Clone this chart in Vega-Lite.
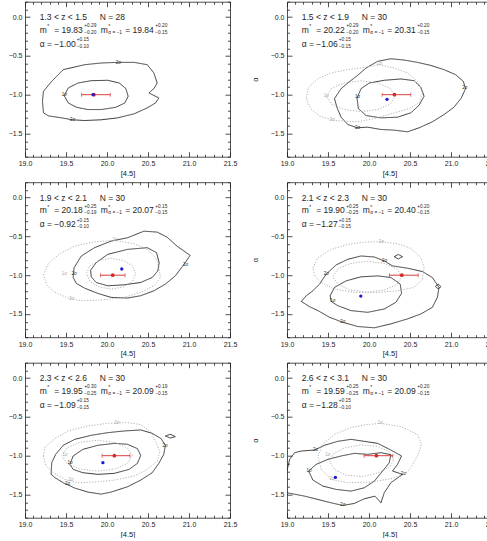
{
  "$schema": "https://vega.github.io/schema/vega-lite/v6.json",
  "background": "white",
  "padding": {"left": -11, "top": -3.3, "right": 0, "bottom": 0},
  "config": {
    "font": "Liberation Sans",
    "view": {"stroke": null},
    "header": {"labels": false, "title": null, "labelFontSize": 0.1, "labelPadding": 0, "titlePadding": 0, "labelExpr": "''"},
    "axis": {
      "labelFont": "Liberation Sans", "titleFont": "Liberation Sans",
      "labelFontSize": 7, "titleFontSize": 7.5, "titleFontWeight": "normal",
      "labelColor": "#222", "titleColor": "#222", "domainColor": "#222", "tickColor": "#222",
      "domainWidth": 0.8, "tickWidth": 0.8, "grid": false,
      "labelOverlap": false, "labelFlush": false, "labelBound": false
    }
  },
  "data": {"values": [
    {"p":1,"k":"c","c":"a","s":"solid","o":0,"x":19.466,"y":-0.677},
    {"p":1,"k":"c","c":"a","s":"solid","o":1,"x":19.727,"y":-0.613},
    {"p":1,"k":"c","c":"a","s":"solid","o":2,"x":19.928,"y":-0.591},
    {"p":1,"k":"c","c":"a","s":"solid","o":3,"x":20.129,"y":-0.583},
    {"p":1,"k":"c","c":"a","s":"solid","o":4,"x":20.33,"y":-0.583},
    {"p":1,"k":"c","c":"a","s":"solid","o":5,"x":20.491,"y":-0.613},
    {"p":1,"k":"c","c":"a","s":"solid","o":6,"x":20.572,"y":-0.72},
    {"p":1,"k":"c","c":"a","s":"solid","o":7,"x":20.612,"y":-0.849},
    {"p":1,"k":"c","c":"a","s":"solid","o":8,"x":20.572,"y":-0.921},
    {"p":1,"k":"c","c":"a","s":"solid","o":9,"x":20.511,"y":-0.977},
    {"p":1,"k":"c","c":"a","s":"solid","o":10,"x":20.632,"y":-1.042},
    {"p":1,"k":"c","c":"a","s":"solid","o":11,"x":20.592,"y":-1.106},
    {"p":1,"k":"c","c":"a","s":"solid","o":12,"x":20.491,"y":-1.17},
    {"p":1,"k":"c","c":"a","s":"solid","o":13,"x":20.33,"y":-1.247},
    {"p":1,"k":"c","c":"a","s":"solid","o":14,"x":20.129,"y":-1.299},
    {"p":1,"k":"c","c":"a","s":"solid","o":15,"x":19.928,"y":-1.324},
    {"p":1,"k":"c","c":"a","s":"solid","o":16,"x":19.727,"y":-1.333},
    {"p":1,"k":"c","c":"a","s":"solid","o":17,"x":19.579,"y":-1.324},
    {"p":1,"k":"c","c":"a","s":"solid","o":18,"x":19.446,"y":-1.299},
    {"p":1,"k":"c","c":"a","s":"solid","o":19,"x":19.285,"y":-1.273},
    {"p":1,"k":"c","c":"a","s":"solid","o":20,"x":19.225,"y":-1.234},
    {"p":1,"k":"c","c":"a","s":"solid","o":21,"x":19.213,"y":-1.084},
    {"p":1,"k":"c","c":"a","s":"solid","o":22,"x":19.225,"y":-0.956},
    {"p":1,"k":"c","c":"a","s":"solid","o":23,"x":19.326,"y":-0.827},
    {"p":1,"k":"c","c":"a","s":"solid","o":24,"x":19.466,"y":-0.677},

    {"p":1,"k":"c","c":"b","s":"solid","o":0,"x":19.478,"y":-1.012},
    {"p":1,"k":"c","c":"b","s":"solid","o":1,"x":19.527,"y":-0.913},
    {"p":1,"k":"c","c":"b","s":"solid","o":2,"x":19.647,"y":-0.849},
    {"p":1,"k":"c","c":"b","s":"solid","o":3,"x":19.808,"y":-0.819},
    {"p":1,"k":"c","c":"b","s":"solid","o":4,"x":20.009,"y":-0.814},
    {"p":1,"k":"c","c":"b","s":"solid","o":5,"x":20.149,"y":-0.849},
    {"p":1,"k":"c","c":"b","s":"solid","o":6,"x":20.23,"y":-0.921},
    {"p":1,"k":"c","c":"b","s":"solid","o":7,"x":20.258,"y":-1.02},
    {"p":1,"k":"c","c":"b","s":"solid","o":8,"x":20.218,"y":-1.106},
    {"p":1,"k":"c","c":"b","s":"solid","o":9,"x":20.109,"y":-1.162},
    {"p":1,"k":"c","c":"b","s":"solid","o":10,"x":19.928,"y":-1.192},
    {"p":1,"k":"c","c":"b","s":"solid","o":11,"x":19.768,"y":-1.192},
    {"p":1,"k":"c","c":"b","s":"solid","o":12,"x":19.627,"y":-1.162},
    {"p":1,"k":"c","c":"b","s":"solid","o":13,"x":19.527,"y":-1.106},
    {"p":1,"k":"c","c":"b","s":"solid","o":14,"x":19.478,"y":-1.012},

    {"p":2,"k":"c","c":"a","s":"solid","o":0,"x":19.579,"y":-1.05},
    {"p":2,"k":"c","c":"a","s":"solid","o":1,"x":19.66,"y":-0.922},
    {"p":2,"k":"c","c":"a","s":"solid","o":2,"x":19.741,"y":-0.849},
    {"p":2,"k":"c","c":"a","s":"solid","o":3,"x":19.862,"y":-0.75},
    {"p":2,"k":"c","c":"a","s":"solid","o":4,"x":19.964,"y":-0.656},
    {"p":2,"k":"c","c":"a","s":"solid","o":5,"x":20.105,"y":-0.57},
    {"p":2,"k":"c","c":"a","s":"solid","o":6,"x":20.267,"y":-0.536},
    {"p":2,"k":"c","c":"a","s":"solid","o":7,"x":20.429,"y":-0.553},
    {"p":2,"k":"c","c":"a","s":"solid","o":8,"x":20.591,"y":-0.583},
    {"p":2,"k":"c","c":"a","s":"solid","o":9,"x":20.753,"y":-0.622},
    {"p":2,"k":"c","c":"a","s":"solid","o":10,"x":20.915,"y":-0.677},
    {"p":2,"k":"c","c":"a","s":"solid","o":11,"x":21.057,"y":-0.742},
    {"p":2,"k":"c","c":"a","s":"solid","o":12,"x":21.15,"y":-0.827},
    {"p":2,"k":"c","c":"a","s":"solid","o":13,"x":21.178,"y":-0.922},
    {"p":2,"k":"c","c":"a","s":"solid","o":14,"x":21.126,"y":-1.042},
    {"p":2,"k":"c","c":"a","s":"solid","o":15,"x":21.036,"y":-1.162},
    {"p":2,"k":"c","c":"a","s":"solid","o":16,"x":20.915,"y":-1.256},
    {"p":2,"k":"c","c":"a","s":"solid","o":17,"x":20.773,"y":-1.35},
    {"p":2,"k":"c","c":"a","s":"solid","o":18,"x":20.611,"y":-1.427},
    {"p":2,"k":"c","c":"a","s":"solid","o":19,"x":20.47,"y":-1.479},
    {"p":2,"k":"c","c":"a","s":"solid","o":20,"x":20.308,"y":-1.457},
    {"p":2,"k":"c","c":"a","s":"solid","o":21,"x":20.146,"y":-1.449},
    {"p":2,"k":"c","c":"a","s":"solid","o":22,"x":19.984,"y":-1.419},
    {"p":2,"k":"c","c":"a","s":"solid","o":23,"x":19.854,"y":-1.427},
    {"p":2,"k":"c","c":"a","s":"solid","o":24,"x":19.741,"y":-1.384},
    {"p":2,"k":"c","c":"a","s":"solid","o":25,"x":19.66,"y":-1.29},
    {"p":2,"k":"c","c":"a","s":"solid","o":26,"x":19.611,"y":-1.17},
    {"p":2,"k":"c","c":"a","s":"solid","o":27,"x":19.579,"y":-1.05},

    {"p":2,"k":"c","c":"b","s":"solid","o":0,"x":19.854,"y":-1.042},
    {"p":2,"k":"c","c":"b","s":"solid","o":1,"x":19.903,"y":-0.922},
    {"p":2,"k":"c","c":"b","s":"solid","o":2,"x":20.004,"y":-0.849},
    {"p":2,"k":"c","c":"b","s":"solid","o":3,"x":20.186,"y":-0.814},
    {"p":2,"k":"c","c":"b","s":"solid","o":4,"x":20.389,"y":-0.797},
    {"p":2,"k":"c","c":"b","s":"solid","o":5,"x":20.551,"y":-0.819},
    {"p":2,"k":"c","c":"b","s":"solid","o":6,"x":20.632,"y":-0.904},
    {"p":2,"k":"c","c":"b","s":"solid","o":7,"x":20.672,"y":-1.02},
    {"p":2,"k":"c","c":"b","s":"solid","o":8,"x":20.611,"y":-1.136},
    {"p":2,"k":"c","c":"b","s":"solid","o":9,"x":20.51,"y":-1.234},
    {"p":2,"k":"c","c":"b","s":"solid","o":10,"x":20.348,"y":-1.29},
    {"p":2,"k":"c","c":"b","s":"solid","o":11,"x":20.146,"y":-1.299},
    {"p":2,"k":"c","c":"b","s":"solid","o":12,"x":19.964,"y":-1.269},
    {"p":2,"k":"c","c":"b","s":"solid","o":13,"x":19.87,"y":-1.179},
    {"p":2,"k":"c","c":"b","s":"solid","o":14,"x":19.854,"y":-1.042},

    {"p":2,"k":"c","c":"c","s":"dotted","o":0,"x":19.235,"y":-1.042},
    {"p":2,"k":"c","c":"c","s":"dotted","o":1,"x":19.263,"y":-0.904},
    {"p":2,"k":"c","c":"c","s":"dotted","o":2,"x":19.377,"y":-0.793},
    {"p":2,"k":"c","c":"c","s":"dotted","o":3,"x":19.538,"y":-0.72},
    {"p":2,"k":"c","c":"c","s":"dotted","o":4,"x":19.741,"y":-0.677},
    {"p":2,"k":"c","c":"c","s":"dotted","o":5,"x":19.943,"y":-0.647},
    {"p":2,"k":"c","c":"c","s":"dotted","o":6,"x":20.126,"y":-0.613},
    {"p":2,"k":"c","c":"c","s":"dotted","o":7,"x":20.308,"y":-0.656},
    {"p":2,"k":"c","c":"c","s":"dotted","o":8,"x":20.47,"y":-0.72},
    {"p":2,"k":"c","c":"c","s":"dotted","o":9,"x":20.591,"y":-0.827},
    {"p":2,"k":"c","c":"c","s":"dotted","o":10,"x":20.652,"y":-0.977},
    {"p":2,"k":"c","c":"c","s":"dotted","o":11,"x":20.611,"y":-1.106},
    {"p":2,"k":"c","c":"c","s":"dotted","o":12,"x":20.49,"y":-1.179},
    {"p":2,"k":"c","c":"c","s":"dotted","o":13,"x":20.308,"y":-1.234},
    {"p":2,"k":"c","c":"c","s":"dotted","o":14,"x":20.105,"y":-1.299},
    {"p":2,"k":"c","c":"c","s":"dotted","o":15,"x":19.862,"y":-1.35},
    {"p":2,"k":"c","c":"c","s":"dotted","o":16,"x":19.579,"y":-1.333},
    {"p":2,"k":"c","c":"c","s":"dotted","o":17,"x":19.397,"y":-1.277},
    {"p":2,"k":"c","c":"c","s":"dotted","o":18,"x":19.287,"y":-1.179},
    {"p":2,"k":"c","c":"c","s":"dotted","o":19,"x":19.235,"y":-1.042},

    {"p":2,"k":"c","c":"d","s":"dotted","o":0,"x":20.32,"y":-1.02},
    {"p":2,"k":"c","c":"d","s":"dotted","o":1,"x":20.26,"y":-0.92},
    {"p":2,"k":"c","c":"d","s":"dotted","o":2,"x":20.11,"y":-0.85},
    {"p":2,"k":"c","c":"d","s":"dotted","o":3,"x":19.9,"y":-0.82},
    {"p":2,"k":"c","c":"d","s":"dotted","o":4,"x":19.69,"y":-0.85},
    {"p":2,"k":"c","c":"d","s":"dotted","o":5,"x":19.54,"y":-0.92},
    {"p":2,"k":"c","c":"d","s":"dotted","o":6,"x":19.48,"y":-1.02},
    {"p":2,"k":"c","c":"d","s":"dotted","o":7,"x":19.54,"y":-1.12},
    {"p":2,"k":"c","c":"d","s":"dotted","o":8,"x":19.69,"y":-1.19},
    {"p":2,"k":"c","c":"d","s":"dotted","o":9,"x":19.9,"y":-1.22},
    {"p":2,"k":"c","c":"d","s":"dotted","o":10,"x":20.11,"y":-1.19},
    {"p":2,"k":"c","c":"d","s":"dotted","o":11,"x":20.26,"y":-1.12},
    {"p":2,"k":"c","c":"d","s":"dotted","o":12,"x":20.32,"y":-1.02},

    {"p":3,"k":"c","c":"a","s":"solid","o":0,"x":19.587,"y":-1.03},
    {"p":3,"k":"c","c":"a","s":"solid","o":1,"x":19.599,"y":-0.902},
    {"p":3,"k":"c","c":"a","s":"solid","o":2,"x":19.687,"y":-0.752},
    {"p":3,"k":"c","c":"a","s":"solid","o":3,"x":19.848,"y":-0.645},
    {"p":3,"k":"c","c":"a","s":"solid","o":4,"x":20.049,"y":-0.56},
    {"p":3,"k":"c","c":"a","s":"solid","o":5,"x":20.25,"y":-0.517},
    {"p":3,"k":"c","c":"a","s":"solid","o":6,"x":20.451,"y":-0.432},
    {"p":3,"k":"c","c":"a","s":"solid","o":7,"x":20.612,"y":-0.444},
    {"p":3,"k":"c","c":"a","s":"solid","o":8,"x":20.732,"y":-0.509},
    {"p":3,"k":"c","c":"a","s":"solid","o":9,"x":20.853,"y":-0.624},
    {"p":3,"k":"c","c":"a","s":"solid","o":10,"x":21.014,"y":-0.744},
    {"p":3,"k":"c","c":"a","s":"solid","o":11,"x":20.933,"y":-0.868},
    {"p":3,"k":"c","c":"a","s":"solid","o":12,"x":20.833,"y":-1.009},
    {"p":3,"k":"c","c":"a","s":"solid","o":13,"x":20.712,"y":-1.115},
    {"p":3,"k":"c","c":"a","s":"solid","o":14,"x":20.572,"y":-1.201},
    {"p":3,"k":"c","c":"a","s":"solid","o":15,"x":20.411,"y":-1.265},
    {"p":3,"k":"c","c":"a","s":"solid","o":16,"x":20.25,"y":-1.295},
    {"p":3,"k":"c","c":"a","s":"solid","o":17,"x":20.049,"y":-1.286},
    {"p":3,"k":"c","c":"a","s":"solid","o":18,"x":19.888,"y":-1.235},
    {"p":3,"k":"c","c":"a","s":"solid","o":19,"x":19.727,"y":-1.167},
    {"p":3,"k":"c","c":"a","s":"solid","o":20,"x":19.627,"y":-1.107},
    {"p":3,"k":"c","c":"a","s":"solid","o":21,"x":19.587,"y":-1.03},

    {"p":3,"k":"c","c":"b","s":"solid","o":0,"x":19.8,"y":-0.936},
    {"p":3,"k":"c","c":"b","s":"solid","o":1,"x":19.868,"y":-0.838},
    {"p":3,"k":"c","c":"b","s":"solid","o":2,"x":20.009,"y":-0.731},
    {"p":3,"k":"c","c":"b","s":"solid","o":3,"x":20.25,"y":-0.667},
    {"p":3,"k":"c","c":"b","s":"solid","o":4,"x":20.491,"y":-0.645},
    {"p":3,"k":"c","c":"b","s":"solid","o":5,"x":20.604,"y":-0.709},
    {"p":3,"k":"c","c":"b","s":"solid","o":6,"x":20.636,"y":-0.838},
    {"p":3,"k":"c","c":"b","s":"solid","o":7,"x":20.62,"y":-0.944},
    {"p":3,"k":"c","c":"b","s":"solid","o":8,"x":20.551,"y":-1.03},
    {"p":3,"k":"c","c":"b","s":"solid","o":9,"x":20.411,"y":-1.094},
    {"p":3,"k":"c","c":"b","s":"solid","o":10,"x":20.21,"y":-1.124},
    {"p":3,"k":"c","c":"b","s":"solid","o":11,"x":20.009,"y":-1.137},
    {"p":3,"k":"c","c":"b","s":"solid","o":12,"x":19.868,"y":-1.094},
    {"p":3,"k":"c","c":"b","s":"solid","o":13,"x":19.808,"y":-1.021},
    {"p":3,"k":"c","c":"b","s":"solid","o":14,"x":19.8,"y":-0.936},

    {"p":3,"k":"c","c":"c","s":"dotted","o":0,"x":19.225,"y":-0.996},
    {"p":3,"k":"c","c":"c","s":"dotted","o":1,"x":19.285,"y":-0.85},
    {"p":3,"k":"c","c":"c","s":"dotted","o":2,"x":19.426,"y":-0.722},
    {"p":3,"k":"c","c":"c","s":"dotted","o":3,"x":19.607,"y":-0.624},
    {"p":3,"k":"c","c":"c","s":"dotted","o":4,"x":19.848,"y":-0.568},
    {"p":3,"k":"c","c":"c","s":"dotted","o":5,"x":20.089,"y":-0.551},
    {"p":3,"k":"c","c":"c","s":"dotted","o":6,"x":20.33,"y":-0.594},
    {"p":3,"k":"c","c":"c","s":"dotted","o":7,"x":20.491,"y":-0.667},
    {"p":3,"k":"c","c":"c","s":"dotted","o":8,"x":20.592,"y":-0.774},
    {"p":3,"k":"c","c":"c","s":"dotted","o":9,"x":20.632,"y":-0.893},
    {"p":3,"k":"c","c":"c","s":"dotted","o":10,"x":20.652,"y":-1.03},
    {"p":3,"k":"c","c":"c","s":"dotted","o":11,"x":20.572,"y":-1.137},
    {"p":3,"k":"c","c":"c","s":"dotted","o":12,"x":20.411,"y":-1.222},
    {"p":3,"k":"c","c":"c","s":"dotted","o":13,"x":20.21,"y":-1.286},
    {"p":3,"k":"c","c":"c","s":"dotted","o":14,"x":19.928,"y":-1.321},
    {"p":3,"k":"c","c":"c","s":"dotted","o":15,"x":19.687,"y":-1.329},
    {"p":3,"k":"c","c":"c","s":"dotted","o":16,"x":19.526,"y":-1.295},
    {"p":3,"k":"c","c":"c","s":"dotted","o":17,"x":19.366,"y":-1.222},
    {"p":3,"k":"c","c":"c","s":"dotted","o":18,"x":19.265,"y":-1.124},
    {"p":3,"k":"c","c":"c","s":"dotted","o":19,"x":19.225,"y":-0.996},

    {"p":3,"k":"c","c":"d","s":"dotted","o":0,"x":20.35,"y":-0.98},
    {"p":3,"k":"c","c":"d","s":"dotted","o":1,"x":20.31,"y":-0.88},
    {"p":3,"k":"c","c":"d","s":"dotted","o":2,"x":20.2,"y":-0.81},
    {"p":3,"k":"c","c":"d","s":"dotted","o":3,"x":20.05,"y":-0.78},
    {"p":3,"k":"c","c":"d","s":"dotted","o":4,"x":19.9,"y":-0.81},
    {"p":3,"k":"c","c":"d","s":"dotted","o":5,"x":19.79,"y":-0.88},
    {"p":3,"k":"c","c":"d","s":"dotted","o":6,"x":19.75,"y":-0.98},
    {"p":3,"k":"c","c":"d","s":"dotted","o":7,"x":19.79,"y":-1.08},
    {"p":3,"k":"c","c":"d","s":"dotted","o":8,"x":19.9,"y":-1.15},
    {"p":3,"k":"c","c":"d","s":"dotted","o":9,"x":20.05,"y":-1.18},
    {"p":3,"k":"c","c":"d","s":"dotted","o":10,"x":20.2,"y":-1.15},
    {"p":3,"k":"c","c":"d","s":"dotted","o":11,"x":20.31,"y":-1.08},
    {"p":3,"k":"c","c":"d","s":"dotted","o":12,"x":20.35,"y":-0.98},

    {"p":4,"k":"c","c":"a","s":"solid","o":0,"x":19.174,"y":-1.338},
    {"p":4,"k":"c","c":"a","s":"solid","o":1,"x":19.235,"y":-1.265},
    {"p":4,"k":"c","c":"a","s":"solid","o":2,"x":19.316,"y":-1.201},
    {"p":4,"k":"c","c":"a","s":"solid","o":3,"x":19.397,"y":-1.115},
    {"p":4,"k":"c","c":"a","s":"solid","o":4,"x":19.478,"y":-0.987},
    {"p":4,"k":"c","c":"a","s":"solid","o":5,"x":19.599,"y":-0.868},
    {"p":4,"k":"c","c":"a","s":"solid","o":6,"x":19.741,"y":-0.795},
    {"p":4,"k":"c","c":"a","s":"solid","o":7,"x":19.903,"y":-0.752},
    {"p":4,"k":"c","c":"a","s":"solid","o":8,"x":20.065,"y":-0.765},
    {"p":4,"k":"c","c":"a","s":"solid","o":9,"x":20.186,"y":-0.816},
    {"p":4,"k":"c","c":"a","s":"solid","o":10,"x":20.287,"y":-0.88},
    {"p":4,"k":"c","c":"a","s":"solid","o":11,"x":20.47,"y":-0.91},
    {"p":4,"k":"c","c":"a","s":"solid","o":12,"x":20.652,"y":-0.953},
    {"p":4,"k":"c","c":"a","s":"solid","o":13,"x":20.773,"y":-1.03},
    {"p":4,"k":"c","c":"a","s":"solid","o":14,"x":20.854,"y":-1.158},
    {"p":4,"k":"c","c":"a","s":"solid","o":15,"x":20.834,"y":-1.286},
    {"p":4,"k":"c","c":"a","s":"solid","o":16,"x":20.773,"y":-1.415},
    {"p":4,"k":"c","c":"a","s":"solid","o":17,"x":20.632,"y":-1.5},
    {"p":4,"k":"c","c":"a","s":"solid","o":18,"x":20.47,"y":-1.564},
    {"p":4,"k":"c","c":"a","s":"solid","o":19,"x":20.267,"y":-1.628},
    {"p":4,"k":"c","c":"a","s":"solid","o":20,"x":20.065,"y":-1.679},
    {"p":4,"k":"c","c":"a","s":"solid","o":21,"x":19.862,"y":-1.662},
    {"p":4,"k":"c","c":"a","s":"solid","o":22,"x":19.68,"y":-1.607},
    {"p":4,"k":"c","c":"a","s":"solid","o":23,"x":19.518,"y":-1.543},
    {"p":4,"k":"c","c":"a","s":"solid","o":24,"x":19.377,"y":-1.457},
    {"p":4,"k":"c","c":"a","s":"solid","o":25,"x":19.275,"y":-1.406},
    {"p":4,"k":"c","c":"a","s":"solid","o":26,"x":19.174,"y":-1.338},

    {"p":4,"k":"c","c":"b","s":"solid","o":0,"x":19.526,"y":-1.265},
    {"p":4,"k":"c","c":"b","s":"solid","o":1,"x":19.579,"y":-1.158},
    {"p":4,"k":"c","c":"b","s":"solid","o":2,"x":19.721,"y":-1.073},
    {"p":4,"k":"c","c":"b","s":"solid","o":3,"x":19.903,"y":-1.021},
    {"p":4,"k":"c","c":"b","s":"solid","o":4,"x":20.105,"y":-1.009},
    {"p":4,"k":"c","c":"b","s":"solid","o":5,"x":20.267,"y":-1.03},
    {"p":4,"k":"c","c":"b","s":"solid","o":6,"x":20.381,"y":-1.115},
    {"p":4,"k":"c","c":"b","s":"solid","o":7,"x":20.397,"y":-1.235},
    {"p":4,"k":"c","c":"b","s":"solid","o":8,"x":20.328,"y":-1.35},
    {"p":4,"k":"c","c":"b","s":"solid","o":9,"x":20.186,"y":-1.436},
    {"p":4,"k":"c","c":"b","s":"solid","o":10,"x":19.984,"y":-1.479},
    {"p":4,"k":"c","c":"b","s":"solid","o":11,"x":19.781,"y":-1.457},
    {"p":4,"k":"c","c":"b","s":"solid","o":12,"x":19.619,"y":-1.393},
    {"p":4,"k":"c","c":"b","s":"solid","o":13,"x":19.538,"y":-1.338},
    {"p":4,"k":"c","c":"b","s":"solid","o":14,"x":19.526,"y":-1.265},

    {"p":4,"k":"c","c":"e","s":"solid","o":0,"x":20.308,"y":-0.761},
    {"p":4,"k":"c","c":"e","s":"solid","o":1,"x":20.356,"y":-0.732},
    {"p":4,"k":"c","c":"e","s":"solid","o":2,"x":20.409,"y":-0.761},
    {"p":4,"k":"c","c":"e","s":"solid","o":3,"x":20.356,"y":-0.791},
    {"p":4,"k":"c","c":"e","s":"solid","o":4,"x":20.308,"y":-0.761},

    {"p":4,"k":"c","c":"f","s":"solid","o":0,"x":20.81,"y":-1.145},
    {"p":4,"k":"c","c":"f","s":"solid","o":1,"x":20.846,"y":-1.115},
    {"p":4,"k":"c","c":"f","s":"solid","o":2,"x":20.878,"y":-1.15},
    {"p":4,"k":"c","c":"f","s":"solid","o":3,"x":20.842,"y":-1.175},
    {"p":4,"k":"c","c":"f","s":"solid","o":4,"x":20.81,"y":-1.145},

    {"p":4,"k":"c","c":"c","s":"dotted","o":0,"x":19.316,"y":-0.902},
    {"p":4,"k":"c","c":"c","s":"dotted","o":1,"x":19.377,"y":-0.774},
    {"p":4,"k":"c","c":"c","s":"dotted","o":2,"x":19.538,"y":-0.667},
    {"p":4,"k":"c","c":"c","s":"dotted","o":3,"x":19.741,"y":-0.603},
    {"p":4,"k":"c","c":"c","s":"dotted","o":4,"x":19.943,"y":-0.573},
    {"p":4,"k":"c","c":"c","s":"dotted","o":5,"x":20.154,"y":-0.568},
    {"p":4,"k":"c","c":"c","s":"dotted","o":6,"x":20.348,"y":-0.594},
    {"p":4,"k":"c","c":"c","s":"dotted","o":7,"x":20.51,"y":-0.654},
    {"p":4,"k":"c","c":"c","s":"dotted","o":8,"x":20.632,"y":-0.774},
    {"p":4,"k":"c","c":"c","s":"dotted","o":9,"x":20.672,"y":-0.902},
    {"p":4,"k":"c","c":"c","s":"dotted","o":10,"x":20.652,"y":-1.051},
    {"p":4,"k":"c","c":"c","s":"dotted","o":11,"x":20.551,"y":-1.158},
    {"p":4,"k":"c","c":"c","s":"dotted","o":12,"x":20.348,"y":-1.201},
    {"p":4,"k":"c","c":"c","s":"dotted","o":13,"x":20.105,"y":-1.222},
    {"p":4,"k":"c","c":"c","s":"dotted","o":14,"x":19.822,"y":-1.222},
    {"p":4,"k":"c","c":"c","s":"dotted","o":15,"x":19.579,"y":-1.179},
    {"p":4,"k":"c","c":"c","s":"dotted","o":16,"x":19.417,"y":-1.094},
    {"p":4,"k":"c","c":"c","s":"dotted","o":17,"x":19.336,"y":-1.009},
    {"p":4,"k":"c","c":"c","s":"dotted","o":18,"x":19.316,"y":-0.902},

    {"p":4,"k":"c","c":"d","s":"dotted","o":0,"x":20.4,"y":-1.02},
    {"p":4,"k":"c","c":"d","s":"dotted","o":1,"x":20.34,"y":-0.92},
    {"p":4,"k":"c","c":"d","s":"dotted","o":2,"x":20.19,"y":-0.85},
    {"p":4,"k":"c","c":"d","s":"dotted","o":3,"x":19.98,"y":-0.82},
    {"p":4,"k":"c","c":"d","s":"dotted","o":4,"x":19.77,"y":-0.85},
    {"p":4,"k":"c","c":"d","s":"dotted","o":5,"x":19.62,"y":-0.92},
    {"p":4,"k":"c","c":"d","s":"dotted","o":6,"x":19.56,"y":-1.02},
    {"p":4,"k":"c","c":"d","s":"dotted","o":7,"x":19.62,"y":-1.12},
    {"p":4,"k":"c","c":"d","s":"dotted","o":8,"x":19.77,"y":-1.19},
    {"p":4,"k":"c","c":"d","s":"dotted","o":9,"x":19.98,"y":-1.22},
    {"p":4,"k":"c","c":"d","s":"dotted","o":10,"x":20.19,"y":-1.19},
    {"p":4,"k":"c","c":"d","s":"dotted","o":11,"x":20.34,"y":-1.12},
    {"p":4,"k":"c","c":"d","s":"dotted","o":12,"x":20.4,"y":-1.02},

    {"p":5,"k":"c","c":"a","s":"solid","o":0,"x":19.318,"y":-1.241},
    {"p":5,"k":"c","c":"a","s":"solid","o":1,"x":19.326,"y":-1.091},
    {"p":5,"k":"c","c":"a","s":"solid","o":2,"x":19.374,"y":-0.983},
    {"p":5,"k":"c","c":"a","s":"solid","o":3,"x":19.466,"y":-0.866},
    {"p":5,"k":"c","c":"a","s":"solid","o":4,"x":19.607,"y":-0.789},
    {"p":5,"k":"c","c":"a","s":"solid","o":5,"x":19.808,"y":-0.737},
    {"p":5,"k":"c","c":"a","s":"solid","o":6,"x":20.009,"y":-0.703},
    {"p":5,"k":"c","c":"a","s":"solid","o":7,"x":20.21,"y":-0.681},
    {"p":5,"k":"c","c":"a","s":"solid","o":8,"x":20.411,"y":-0.668},
    {"p":5,"k":"c","c":"a","s":"solid","o":9,"x":20.551,"y":-0.711},
    {"p":5,"k":"c","c":"a","s":"solid","o":10,"x":20.66,"y":-0.78},
    {"p":5,"k":"c","c":"a","s":"solid","o":11,"x":20.712,"y":-0.866},
    {"p":5,"k":"c","c":"a","s":"solid","o":12,"x":20.692,"y":-0.983},
    {"p":5,"k":"c","c":"a","s":"solid","o":13,"x":20.632,"y":-1.099},
    {"p":5,"k":"c","c":"a","s":"solid","o":14,"x":20.551,"y":-1.22},
    {"p":5,"k":"c","c":"a","s":"solid","o":15,"x":20.411,"y":-1.315},
    {"p":5,"k":"c","c":"a","s":"solid","o":16,"x":20.25,"y":-1.401},
    {"p":5,"k":"c","c":"a","s":"solid","o":17,"x":20.049,"y":-1.47},
    {"p":5,"k":"c","c":"a","s":"solid","o":18,"x":19.928,"y":-1.496},
    {"p":5,"k":"c","c":"a","s":"solid","o":19,"x":19.768,"y":-1.47},
    {"p":5,"k":"c","c":"a","s":"solid","o":20,"x":19.607,"y":-1.418},
    {"p":5,"k":"c","c":"a","s":"solid","o":21,"x":19.466,"y":-1.349},
    {"p":5,"k":"c","c":"a","s":"solid","o":22,"x":19.366,"y":-1.284},
    {"p":5,"k":"c","c":"a","s":"solid","o":23,"x":19.318,"y":-1.241},

    {"p":5,"k":"c","c":"b","s":"solid","o":0,"x":19.547,"y":-1.112},
    {"p":5,"k":"c","c":"b","s":"solid","o":1,"x":19.587,"y":-1.004},
    {"p":5,"k":"c","c":"b","s":"solid","o":2,"x":19.707,"y":-0.918},
    {"p":5,"k":"c","c":"b","s":"solid","o":3,"x":19.888,"y":-0.866},
    {"p":5,"k":"c","c":"b","s":"solid","o":4,"x":20.089,"y":-0.841},
    {"p":5,"k":"c","c":"b","s":"solid","o":5,"x":20.25,"y":-0.853},
    {"p":5,"k":"c","c":"b","s":"solid","o":6,"x":20.371,"y":-0.909},
    {"p":5,"k":"c","c":"b","s":"solid","o":7,"x":20.411,"y":-0.996},
    {"p":5,"k":"c","c":"b","s":"solid","o":8,"x":20.371,"y":-1.099},
    {"p":5,"k":"c","c":"b","s":"solid","o":9,"x":20.27,"y":-1.177},
    {"p":5,"k":"c","c":"b","s":"solid","o":10,"x":20.089,"y":-1.228},
    {"p":5,"k":"c","c":"b","s":"solid","o":11,"x":19.888,"y":-1.241},
    {"p":5,"k":"c","c":"b","s":"solid","o":12,"x":19.707,"y":-1.22},
    {"p":5,"k":"c","c":"b","s":"solid","o":13,"x":19.587,"y":-1.177},
    {"p":5,"k":"c","c":"b","s":"solid","o":14,"x":19.547,"y":-1.112},

    {"p":5,"k":"c","c":"e","s":"solid","o":0,"x":20.712,"y":-0.746},
    {"p":5,"k":"c","c":"e","s":"solid","o":1,"x":20.772,"y":-0.724},
    {"p":5,"k":"c","c":"e","s":"solid","o":2,"x":20.833,"y":-0.754},
    {"p":5,"k":"c","c":"e","s":"solid","o":3,"x":20.772,"y":-0.772},
    {"p":5,"k":"c","c":"e","s":"solid","o":4,"x":20.712,"y":-0.746},

    {"p":5,"k":"c","c":"c","s":"dotted","o":0,"x":19.225,"y":-1.004},
    {"p":5,"k":"c","c":"c","s":"dotted","o":1,"x":19.245,"y":-0.884},
    {"p":5,"k":"c","c":"c","s":"dotted","o":2,"x":19.366,"y":-0.78},
    {"p":5,"k":"c","c":"c","s":"dotted","o":3,"x":19.527,"y":-0.681},
    {"p":5,"k":"c","c":"c","s":"dotted","o":4,"x":19.768,"y":-0.616},
    {"p":5,"k":"c","c":"c","s":"dotted","o":5,"x":20.009,"y":-0.582},
    {"p":5,"k":"c","c":"c","s":"dotted","o":6,"x":20.25,"y":-0.573},
    {"p":5,"k":"c","c":"c","s":"dotted","o":7,"x":20.411,"y":-0.599},
    {"p":5,"k":"c","c":"c","s":"dotted","o":8,"x":20.539,"y":-0.694},
    {"p":5,"k":"c","c":"c","s":"dotted","o":9,"x":20.596,"y":-0.823},
    {"p":5,"k":"c","c":"c","s":"dotted","o":10,"x":20.644,"y":-0.953},
    {"p":5,"k":"c","c":"c","s":"dotted","o":11,"x":20.612,"y":-1.069},
    {"p":5,"k":"c","c":"c","s":"dotted","o":12,"x":20.491,"y":-1.177},
    {"p":5,"k":"c","c":"c","s":"dotted","o":13,"x":20.33,"y":-1.263},
    {"p":5,"k":"c","c":"c","s":"dotted","o":14,"x":20.089,"y":-1.315},
    {"p":5,"k":"c","c":"c","s":"dotted","o":15,"x":19.848,"y":-1.341},
    {"p":5,"k":"c","c":"c","s":"dotted","o":16,"x":19.647,"y":-1.349},
    {"p":5,"k":"c","c":"c","s":"dotted","o":17,"x":19.486,"y":-1.306},
    {"p":5,"k":"c","c":"c","s":"dotted","o":18,"x":19.346,"y":-1.22},
    {"p":5,"k":"c","c":"c","s":"dotted","o":19,"x":19.253,"y":-1.125},
    {"p":5,"k":"c","c":"c","s":"dotted","o":20,"x":19.225,"y":-1.004},

    {"p":5,"k":"c","c":"d","s":"dotted","o":0,"x":20.31,"y":-1.0},
    {"p":5,"k":"c","c":"d","s":"dotted","o":1,"x":20.25,"y":-0.9},
    {"p":5,"k":"c","c":"d","s":"dotted","o":2,"x":20.1,"y":-0.83},
    {"p":5,"k":"c","c":"d","s":"dotted","o":3,"x":19.88,"y":-0.8},
    {"p":5,"k":"c","c":"d","s":"dotted","o":4,"x":19.66,"y":-0.83},
    {"p":5,"k":"c","c":"d","s":"dotted","o":5,"x":19.51,"y":-0.9},
    {"p":5,"k":"c","c":"d","s":"dotted","o":6,"x":19.45,"y":-1.0},
    {"p":5,"k":"c","c":"d","s":"dotted","o":7,"x":19.51,"y":-1.1},
    {"p":5,"k":"c","c":"d","s":"dotted","o":8,"x":19.66,"y":-1.17},
    {"p":5,"k":"c","c":"d","s":"dotted","o":9,"x":19.88,"y":-1.2},
    {"p":5,"k":"c","c":"d","s":"dotted","o":10,"x":20.1,"y":-1.17},
    {"p":5,"k":"c","c":"d","s":"dotted","o":11,"x":20.25,"y":-1.1},
    {"p":5,"k":"c","c":"d","s":"dotted","o":12,"x":20.31,"y":-1.0},

    {"p":6,"k":"c","c":"a","s":"solid","o":0,"x":19.0,"y":-1.198},
    {"p":6,"k":"c","c":"a","s":"solid","o":1,"x":19.032,"y":-1.047},
    {"p":6,"k":"c","c":"a","s":"solid","o":2,"x":19.093,"y":-0.961},
    {"p":6,"k":"c","c":"a","s":"solid","o":3,"x":19.174,"y":-0.94},
    {"p":6,"k":"c","c":"a","s":"solid","o":4,"x":19.336,"y":-0.927},
    {"p":6,"k":"c","c":"a","s":"solid","o":5,"x":19.457,"y":-0.866},
    {"p":6,"k":"c","c":"a","s":"solid","o":6,"x":19.619,"y":-0.815},
    {"p":6,"k":"c","c":"a","s":"solid","o":7,"x":19.781,"y":-0.789},
    {"p":6,"k":"c","c":"a","s":"solid","o":8,"x":19.943,"y":-0.815},
    {"p":6,"k":"c","c":"a","s":"solid","o":9,"x":20.105,"y":-0.841},
    {"p":6,"k":"c","c":"a","s":"solid","o":10,"x":20.267,"y":-0.927},
    {"p":6,"k":"c","c":"a","s":"solid","o":11,"x":20.397,"y":-1.004},
    {"p":6,"k":"c","c":"a","s":"solid","o":12,"x":20.348,"y":-1.112},
    {"p":6,"k":"c","c":"a","s":"solid","o":13,"x":20.287,"y":-1.198},
    {"p":6,"k":"c","c":"a","s":"solid","o":14,"x":20.409,"y":-1.241},
    {"p":6,"k":"c","c":"a","s":"solid","o":15,"x":20.267,"y":-1.349},
    {"p":6,"k":"c","c":"a","s":"solid","o":16,"x":20.186,"y":-1.478},
    {"p":6,"k":"c","c":"a","s":"solid","o":17,"x":20.146,"y":-1.608},
    {"p":6,"k":"c","c":"a","s":"solid","o":18,"x":20.073,"y":-1.522},
    {"p":6,"k":"c","c":"a","s":"solid","o":19,"x":19.943,"y":-1.556},
    {"p":6,"k":"c","c":"a","s":"solid","o":20,"x":19.822,"y":-1.616},
    {"p":6,"k":"c","c":"a","s":"solid","o":21,"x":19.68,"y":-1.642},
    {"p":6,"k":"c","c":"a","s":"solid","o":22,"x":19.538,"y":-1.608},
    {"p":6,"k":"c","c":"a","s":"solid","o":23,"x":19.377,"y":-1.565},
    {"p":6,"k":"c","c":"a","s":"solid","o":24,"x":19.215,"y":-1.522},
    {"p":6,"k":"c","c":"a","s":"solid","o":25,"x":19.0,"y":-1.478},

    {"p":6,"k":"c","c":"b","s":"solid","o":0,"x":19.263,"y":-1.198},
    {"p":6,"k":"c","c":"b","s":"solid","o":1,"x":19.356,"y":-1.112},
    {"p":6,"k":"c","c":"b","s":"solid","o":2,"x":19.498,"y":-1.047},
    {"p":6,"k":"c","c":"b","s":"solid","o":3,"x":19.66,"y":-1.004},
    {"p":6,"k":"c","c":"b","s":"solid","o":4,"x":19.822,"y":-0.97},
    {"p":6,"k":"c","c":"b","s":"solid","o":5,"x":19.984,"y":-0.983},
    {"p":6,"k":"c","c":"b","s":"solid","o":6,"x":20.146,"y":-0.961},
    {"p":6,"k":"c","c":"b","s":"solid","o":7,"x":20.267,"y":-0.987},
    {"p":6,"k":"c","c":"b","s":"solid","o":8,"x":20.247,"y":-1.091},
    {"p":6,"k":"c","c":"b","s":"solid","o":9,"x":20.166,"y":-1.198},
    {"p":6,"k":"c","c":"b","s":"solid","o":10,"x":20.065,"y":-1.328},
    {"p":6,"k":"c","c":"b","s":"solid","o":11,"x":19.943,"y":-1.414},
    {"p":6,"k":"c","c":"b","s":"solid","o":12,"x":19.781,"y":-1.457},
    {"p":6,"k":"c","c":"b","s":"solid","o":13,"x":19.599,"y":-1.435},
    {"p":6,"k":"c","c":"b","s":"solid","o":14,"x":19.437,"y":-1.392},
    {"p":6,"k":"c","c":"b","s":"solid","o":15,"x":19.316,"y":-1.315},
    {"p":6,"k":"c","c":"b","s":"solid","o":16,"x":19.263,"y":-1.198},

    {"p":6,"k":"c","c":"c","s":"dotted","o":0,"x":19.377,"y":-1.004},
    {"p":6,"k":"c","c":"c","s":"dotted","o":1,"x":19.437,"y":-0.853},
    {"p":6,"k":"c","c":"c","s":"dotted","o":2,"x":19.579,"y":-0.724},
    {"p":6,"k":"c","c":"c","s":"dotted","o":3,"x":19.781,"y":-0.638},
    {"p":6,"k":"c","c":"c","s":"dotted","o":4,"x":19.943,"y":-0.603},
    {"p":6,"k":"c","c":"c","s":"dotted","o":5,"x":20.138,"y":-0.582},
    {"p":6,"k":"c","c":"c","s":"dotted","o":6,"x":20.389,"y":-0.625},
    {"p":6,"k":"c","c":"c","s":"dotted","o":7,"x":20.591,"y":-0.724},
    {"p":6,"k":"c","c":"c","s":"dotted","o":8,"x":20.64,"y":-0.853},
    {"p":6,"k":"c","c":"c","s":"dotted","o":9,"x":20.591,"y":-1.004},
    {"p":6,"k":"c","c":"c","s":"dotted","o":10,"x":20.51,"y":-1.155},
    {"p":6,"k":"c","c":"c","s":"dotted","o":11,"x":20.437,"y":-1.241},
    {"p":6,"k":"c","c":"c","s":"dotted","o":12,"x":20.267,"y":-1.297},
    {"p":6,"k":"c","c":"c","s":"dotted","o":13,"x":20.024,"y":-1.341},
    {"p":6,"k":"c","c":"c","s":"dotted","o":14,"x":19.741,"y":-1.349},
    {"p":6,"k":"c","c":"c","s":"dotted","o":15,"x":19.538,"y":-1.306},
    {"p":6,"k":"c","c":"c","s":"dotted","o":16,"x":19.417,"y":-1.177},
    {"p":6,"k":"c","c":"c","s":"dotted","o":17,"x":19.377,"y":-1.004},

    {"p":6,"k":"c","c":"d","s":"dotted","o":0,"x":20.3,"y":-1.05},
    {"p":6,"k":"c","c":"d","s":"dotted","o":1,"x":20.25,"y":-0.95},
    {"p":6,"k":"c","c":"d","s":"dotted","o":2,"x":20.1,"y":-0.88},
    {"p":6,"k":"c","c":"d","s":"dotted","o":3,"x":19.9,"y":-0.86},
    {"p":6,"k":"c","c":"d","s":"dotted","o":4,"x":19.7,"y":-0.9},
    {"p":6,"k":"c","c":"d","s":"dotted","o":5,"x":19.56,"y":-0.98},
    {"p":6,"k":"c","c":"d","s":"dotted","o":6,"x":19.52,"y":-1.08},
    {"p":6,"k":"c","c":"d","s":"dotted","o":7,"x":19.58,"y":-1.18},
    {"p":6,"k":"c","c":"d","s":"dotted","o":8,"x":19.72,"y":-1.25},
    {"p":6,"k":"c","c":"d","s":"dotted","o":9,"x":19.92,"y":-1.27},
    {"p":6,"k":"c","c":"d","s":"dotted","o":10,"x":20.12,"y":-1.22},
    {"p":6,"k":"c","c":"d","s":"dotted","o":11,"x":20.26,"y":-1.14},
    {"p":6,"k":"c","c":"d","s":"dotted","o":12,"x":20.3,"y":-1.05},

    {"p":1,"k":"l","s":"solid","t":"2σ","x":20.14,"y":-0.585},
    {"p":1,"k":"l","s":"solid","t":"2σ","x":19.58,"y":-1.325},
    {"p":1,"k":"l","s":"solid","t":"1σ","x":19.48,"y":-1.01},
    {"p":2,"k":"l","s":"solid","t":"2σ","x":19.86,"y":-1.43},
    {"p":2,"k":"l","s":"solid","t":"2σ","x":21.17,"y":-0.92},
    {"p":2,"k":"l","s":"solid","t":"1σ","x":19.86,"y":-1.03},
    {"p":2,"k":"l","s":"dotted","t":"2σ","x":20.13,"y":-0.61},
    {"p":2,"k":"l","s":"dotted","t":"2σ","x":19.55,"y":-1.33},
    {"p":2,"k":"l","s":"dotted","t":"1σ","x":19.48,"y":-1.02},
    {"p":3,"k":"l","s":"solid","t":"2σ","x":20.96,"y":-0.87},
    {"p":3,"k":"l","s":"solid","t":"2σ","x":19.6,"y":-0.99},
    {"p":3,"k":"l","s":"dotted","t":"2σ","x":20.1,"y":-0.55},
    {"p":3,"k":"l","s":"dotted","t":"2σ","x":19.57,"y":-1.31},
    {"p":3,"k":"l","s":"dotted","t":"1σ","x":19.48,"y":-0.99},
    {"p":4,"k":"l","s":"solid","t":"2σ","x":19.48,"y":-0.99},
    {"p":4,"k":"l","s":"solid","t":"2σ","x":19.68,"y":-1.61},
    {"p":4,"k":"l","s":"solid","t":"1σ","x":19.56,"y":-1.33},
    {"p":4,"k":"l","s":"dotted","t":"2σ","x":20.15,"y":-0.57},
    {"p":4,"k":"l","s":"solid","t":"2σ","x":20.19,"y":-0.82},
    {"p":5,"k":"l","s":"solid","t":"2σ","x":20.71,"y":-0.87},
    {"p":5,"k":"l","s":"solid","t":"2σ","x":19.52,"y":-1.37},
    {"p":5,"k":"l","s":"solid","t":"1σ","x":19.55,"y":-1.1},
    {"p":5,"k":"l","s":"dotted","t":"2σ","x":20.12,"y":-0.58},
    {"p":5,"k":"l","s":"dotted","t":"2σ","x":19.56,"y":-1.31},
    {"p":5,"k":"l","s":"dotted","t":"1σ","x":19.49,"y":-0.99},
    {"p":6,"k":"l","s":"solid","t":"2σ","x":19.35,"y":-0.93},
    {"p":6,"k":"l","s":"solid","t":"2σ","x":19.68,"y":-1.64},
    {"p":6,"k":"l","s":"solid","t":"2σ","x":20.42,"y":-1.24},
    {"p":6,"k":"l","s":"solid","t":"1σ","x":19.27,"y":-1.2},
    {"p":6,"k":"l","s":"dotted","t":"2σ","x":20.14,"y":-0.58},
    {"p":6,"k":"l","s":"dotted","t":"1σ","x":19.5,"y":-0.99},
    {"p":6,"k":"l","s":"dotted","t":"2σ","x":19.55,"y":-1.3},

    {"p":1,"k":"r","x":19.84,"y":-1.0,"lo":19.69,"hi":20.04},
    {"p":2,"k":"r","x":20.31,"y":-1.0,"lo":20.16,"hi":20.51},
    {"p":3,"k":"r","x":20.07,"y":-1.0,"lo":19.92,"hi":20.22},
    {"p":4,"k":"r","x":20.4,"y":-1.0,"lo":20.25,"hi":20.6},
    {"p":5,"k":"r","x":20.09,"y":-1.0,"lo":19.94,"hi":20.28},
    {"p":6,"k":"r","x":20.09,"y":-1.0,"lo":19.94,"hi":20.29},

    {"p":1,"k":"b","x":19.83,"y":-1.0},
    {"p":2,"k":"b","x":20.22,"y":-1.06},
    {"p":3,"k":"b","x":20.18,"y":-0.92},
    {"p":4,"k":"b","x":19.9,"y":-1.27},
    {"p":5,"k":"b","x":19.95,"y":-1.09},
    {"p":6,"k":"b","x":19.59,"y":-1.28},

    {"p":1,"k":"i","z":"1.3 < z < 1.5","n":"N = 28","m":"= 19.83","mu":"+0.29","ml":"−0.20","f":"= 19.84","fu":"+0.20","fl":"−0.15","a":"α = −1.00","au":"+0.15","al":"−0.10"},
    {"p":2,"k":"i","z":"1.5 < z < 1.9","n":"N = 30","m":"= 20.22","mu":"+0.29","ml":"−0.20","f":"= 20.31","fu":"+0.20","fl":"−0.15","a":"α = −1.06","au":"+0.15","al":"−0.15"},
    {"p":3,"k":"i","z":"1.9 < z < 2.1","n":"N = 30","m":"= 20.18","mu":"+0.25","ml":"−0.19","f":"= 20.07","fu":"+0.15","fl":"−0.15","a":"α = −0.92","au":"+0.15","al":"−0.10"},
    {"p":4,"k":"i","z":"2.1 < z < 2.3","n":"N = 30","m":"= 19.90","mu":"+0.25","ml":"−0.25","f":"= 20.40","fu":"+0.20","fl":"−0.15","a":"α = −1.27","au":"+0.15","al":"−0.15"},
    {"p":5,"k":"i","z":"2.3 < z < 2.6","n":"N = 30","m":"= 19.95","mu":"+0.30","ml":"−0.25","f":"= 20.09","fu":"+0.19","fl":"−0.15","a":"α = −1.09","au":"+0.15","al":"−0.15"},
    {"p":6,"k":"i","z":"2.6 < z < 3.1","n":"N = 30","m":"= 19.59","mu":"+0.25","ml":"−0.25","f":"= 20.09","fu":"+0.20","fl":"−0.15","a":"α = −1.28","au":"+0.15","al":"−0.10"}
  ]},
  "facet": {"field": "p", "type": "ordinal", "title": null, "header": {"labels": false, "title": null, "labelExpr": "''", "labelFontSize": 0.1, "labelPadding": 0}},
  "columns": 2,
  "spacing": {"row": 0.5, "column": 14},
  "resolve": {"axis": {"x": "independent", "y": "independent"}},
  "spec": {
    "width": 205,
    "height": 155,
    "resolve": {"axis": {"x": "independent", "y": "independent"}},
    "layer": [
      {
        "transform": [{"filter": "datum.k === 'c'"}],
        "mark": {"type": "line", "strokeWidth": 0.9, "clip": true},
        "encoding": {
          "x": {"field": "x", "type": "quantitative", "scale": {"domain": [19, 21.5], "nice": false, "zero": false},
            "axis": {"orient": "bottom", "title": "[4.5]", "titlePadding": 0,
              "values": [19.0,19.1,19.2,19.3,19.4,19.5,19.6,19.7,19.8,19.9,20.0,20.1,20.2,20.3,20.4,20.5,20.6,20.7,20.8,20.9,21.0,21.1,21.2,21.3,21.4,21.5],
              "labelExpr": "abs(datum.value*2 - round(datum.value*2)) < 0.01 ? format(datum.value, '.1f') : ''",
              "tickSize": {"condition": {"test": "abs(datum.value*2 - round(datum.value*2)) < 0.01", "value": -5}, "value": -2.5},
              "labelPadding": 8}},
          "y": {"field": "y", "type": "quantitative", "scale": {"domain": [-1.8, 0.2], "nice": false, "zero": false},
            "axis": {"orient": "left", "title": "α", "titlePadding": 11,
              "values": [0.2,0.1,0.0,-0.1,-0.2,-0.3,-0.4,-0.5,-0.6,-0.7,-0.8,-0.9,-1.0,-1.1,-1.2,-1.3,-1.4,-1.5,-1.6,-1.7,-1.8],
              "labelExpr": "abs(datum.value*2 - round(datum.value*2)) < 0.01 && datum.value < 0.1 ? format(datum.value, '.1f') : ''",
              "tickSize": {"condition": {"test": "abs(datum.value*2 - round(datum.value*2)) < 0.01", "value": -5}, "value": -2.5},
              "labelPadding": 8}},
          "detail": {"field": "c"},
          "order": {"field": "o", "type": "quantitative"},
          "color": {"field": "s", "type": "nominal", "scale": {"domain": ["solid", "dotted"], "range": ["#262626", "#a9a9a9"]}, "legend": null},
          "strokeDash": {"field": "s", "type": "nominal", "scale": {"domain": ["solid", "dotted"], "range": [[1, 0], [1.2, 1.6]]}, "legend": null}
        }
      },
      {
        "transform": [{"filter": "datum.k === 'l'"}],
        "mark": {"type": "text", "fontSize": 4.5, "baseline": "middle", "align": "center"},
        "encoding": {
          "x": {"field": "x", "type": "quantitative", "axis": null},
          "y": {"field": "y", "type": "quantitative", "axis": null},
          "text": {"field": "t"},
          "color": {"field": "s", "type": "nominal", "scale": {"domain": ["solid", "dotted"], "range": ["#444444", "#a0a0a0"]}, "legend": null}
        }
      },
      {
        "transform": [{"filter": "datum.k === 'r'"}],
        "mark": {"type": "rule", "color": "#d42a2a", "strokeWidth": 0.9},
        "encoding": {
          "x": {"field": "lo", "type": "quantitative",
            "axis": {"orient": "top", "title": null, "labels": false,
              "values": [19.0,19.1,19.2,19.3,19.4,19.5,19.6,19.7,19.8,19.9,20.0,20.1,20.2,20.3,20.4,20.5,20.6,20.7,20.8,20.9,21.0,21.1,21.2,21.3,21.4,21.5],
              "tickSize": {"condition": {"test": "abs(datum.value*2 - round(datum.value*2)) < 0.01", "value": -5}, "value": -2.5}}},
          "x2": {"field": "hi"},
          "y": {"field": "y", "type": "quantitative",
            "axis": {"orient": "right", "title": null, "labels": false,
              "values": [0.2,0.1,0.0,-0.1,-0.2,-0.3,-0.4,-0.5,-0.6,-0.7,-0.8,-0.9,-1.0,-1.1,-1.2,-1.3,-1.4,-1.5,-1.6,-1.7,-1.8],
              "tickSize": {"condition": {"test": "abs(datum.value*2 - round(datum.value*2)) < 0.01", "value": -5}, "value": -2.5}}}
        }
      },
      {
        "transform": [{"filter": "datum.k === 'r'"}],
        "mark": {"type": "tick", "orient": "vertical", "color": "#d42a2a", "size": 4, "thickness": 0.9},
        "encoding": {
          "x": {"field": "lo", "type": "quantitative", "axis": null},
          "y": {"field": "y", "type": "quantitative", "axis": null}
        }
      },
      {
        "transform": [{"filter": "datum.k === 'r'"}],
        "mark": {"type": "tick", "orient": "vertical", "color": "#d42a2a", "size": 4, "thickness": 0.9},
        "encoding": {
          "x": {"field": "hi", "type": "quantitative", "axis": null},
          "y": {"field": "y", "type": "quantitative", "axis": null}
        }
      },
      {
        "transform": [{"filter": "datum.k === 'r'"}],
        "mark": {"type": "point", "filled": true, "shape": "circle", "size": 14, "color": "#d42a2a", "opacity": 1},
        "encoding": {
          "x": {"field": "x", "type": "quantitative", "axis": null},
          "y": {"field": "y", "type": "quantitative", "axis": null}
        }
      },
      {
        "transform": [{"filter": "datum.k === 'b'"}],
        "mark": {"type": "point", "filled": true, "shape": "circle", "size": 11, "color": "#1a1ad0", "opacity": 1},
        "encoding": {
          "x": {"field": "x", "type": "quantitative", "axis": null},
          "y": {"field": "y", "type": "quantitative", "axis": null}
        }
      },
      {
        "transform": [{"filter": "datum.k === 'i'"}],
        "mark": {"type": "text", "align": "left", "baseline": "middle", "fontSize": 8.5, "color": "#1e1e1e"},
        "encoding": {"x": {"datum": 19.18, "type": "quantitative", "axis": null}, "y": {"datum": 0.0, "type": "quantitative", "axis": null}, "text": {"field": "z"}}
      },
      {
        "transform": [{"filter": "datum.k === 'i'"}],
        "mark": {"type": "text", "align": "left", "baseline": "middle", "fontSize": 8.5, "color": "#1e1e1e", "dx": 60},
        "encoding": {"x": {"datum": 19.18, "type": "quantitative", "axis": null}, "y": {"datum": 0.0, "type": "quantitative", "axis": null}, "text": {"field": "n"}}
      },
      {
        "transform": [{"filter": "datum.k === 'i'"}],
        "mark": {"type": "text", "align": "left", "baseline": "middle", "fontSize": 8.5, "color": "#1e1e1e"},
        "encoding": {"x": {"datum": 19.18, "type": "quantitative", "axis": null}, "y": {"datum": -0.16, "type": "quantitative", "axis": null}, "text": {"value": "m"}}
      },
      {
        "transform": [{"filter": "datum.k === 'i'"}],
        "mark": {"type": "text", "align": "left", "baseline": "middle", "fontSize": 5, "color": "#1e1e1e", "dx": 7.4, "dy": -3.5},
        "encoding": {"x": {"datum": 19.18, "type": "quantitative", "axis": null}, "y": {"datum": -0.16, "type": "quantitative", "axis": null}, "text": {"value": "*"}}
      },
      {
        "transform": [{"filter": "datum.k === 'i'"}],
        "mark": {"type": "text", "align": "left", "baseline": "middle", "fontSize": 8.5, "color": "#1e1e1e", "dx": 14.5},
        "encoding": {"x": {"datum": 19.18, "type": "quantitative", "axis": null}, "y": {"datum": -0.16, "type": "quantitative", "axis": null}, "text": {"field": "m"}}
      },
      {
        "transform": [{"filter": "datum.k === 'i'"}],
        "mark": {"type": "text", "align": "left", "baseline": "middle", "fontSize": 4.8, "color": "#1e1e1e", "dx": 44.5, "dy": -3.2},
        "encoding": {"x": {"datum": 19.18, "type": "quantitative", "axis": null}, "y": {"datum": -0.16, "type": "quantitative", "axis": null}, "text": {"field": "mu"}}
      },
      {
        "transform": [{"filter": "datum.k === 'i'"}],
        "mark": {"type": "text", "align": "left", "baseline": "middle", "fontSize": 4.8, "color": "#1e1e1e", "dx": 44.5, "dy": 3.2},
        "encoding": {"x": {"datum": 19.18, "type": "quantitative", "axis": null}, "y": {"datum": -0.16, "type": "quantitative", "axis": null}, "text": {"field": "ml"}}
      },
      {
        "transform": [{"filter": "datum.k === 'i'"}],
        "mark": {"type": "text", "align": "left", "baseline": "middle", "fontSize": 8.5, "color": "#1e1e1e", "dx": 61},
        "encoding": {"x": {"datum": 19.18, "type": "quantitative", "axis": null}, "y": {"datum": -0.16, "type": "quantitative", "axis": null}, "text": {"value": "m"}}
      },
      {
        "transform": [{"filter": "datum.k === 'i'"}],
        "mark": {"type": "text", "align": "left", "baseline": "middle", "fontSize": 5, "color": "#1e1e1e", "dx": 68.4, "dy": -3.5},
        "encoding": {"x": {"datum": 19.18, "type": "quantitative", "axis": null}, "y": {"datum": -0.16, "type": "quantitative", "axis": null}, "text": {"value": "*"}}
      },
      {
        "transform": [{"filter": "datum.k === 'i'"}],
        "mark": {"type": "text", "align": "left", "baseline": "middle", "fontSize": 4.8, "color": "#1e1e1e", "dx": 68.6, "dy": 3},
        "encoding": {"x": {"datum": 19.18, "type": "quantitative", "axis": null}, "y": {"datum": -0.16, "type": "quantitative", "axis": null}, "text": {"value": "α = −1"}}
      },
      {
        "transform": [{"filter": "datum.k === 'i'"}],
        "mark": {"type": "text", "align": "left", "baseline": "middle", "fontSize": 8.5, "color": "#1e1e1e", "dx": 85.5},
        "encoding": {"x": {"datum": 19.18, "type": "quantitative", "axis": null}, "y": {"datum": -0.16, "type": "quantitative", "axis": null}, "text": {"field": "f"}}
      },
      {
        "transform": [{"filter": "datum.k === 'i'"}],
        "mark": {"type": "text", "align": "left", "baseline": "middle", "fontSize": 4.8, "color": "#1e1e1e", "dx": 115.5, "dy": -3.2},
        "encoding": {"x": {"datum": 19.18, "type": "quantitative", "axis": null}, "y": {"datum": -0.16, "type": "quantitative", "axis": null}, "text": {"field": "fu"}}
      },
      {
        "transform": [{"filter": "datum.k === 'i'"}],
        "mark": {"type": "text", "align": "left", "baseline": "middle", "fontSize": 4.8, "color": "#1e1e1e", "dx": 115.5, "dy": 3.2},
        "encoding": {"x": {"datum": 19.18, "type": "quantitative", "axis": null}, "y": {"datum": -0.16, "type": "quantitative", "axis": null}, "text": {"field": "fl"}}
      },
      {
        "transform": [{"filter": "datum.k === 'i'"}],
        "mark": {"type": "text", "align": "left", "baseline": "middle", "fontSize": 8.5, "color": "#1e1e1e"},
        "encoding": {"x": {"datum": 19.18, "type": "quantitative", "axis": null}, "y": {"datum": -0.34, "type": "quantitative", "axis": null}, "text": {"field": "a"}}
      },
      {
        "transform": [{"filter": "datum.k === 'i'"}],
        "mark": {"type": "text", "align": "left", "baseline": "middle", "fontSize": 4.8, "color": "#1e1e1e", "dx": 37, "dy": -3.2},
        "encoding": {"x": {"datum": 19.18, "type": "quantitative", "axis": null}, "y": {"datum": -0.34, "type": "quantitative", "axis": null}, "text": {"field": "au"}}
      },
      {
        "transform": [{"filter": "datum.k === 'i'"}],
        "mark": {"type": "text", "align": "left", "baseline": "middle", "fontSize": 4.8, "color": "#1e1e1e", "dx": 37, "dy": 3.2},
        "encoding": {"x": {"datum": 19.18, "type": "quantitative", "axis": null}, "y": {"datum": -0.34, "type": "quantitative", "axis": null}, "text": {"field": "al"}}
      }
    ]
  }
}
